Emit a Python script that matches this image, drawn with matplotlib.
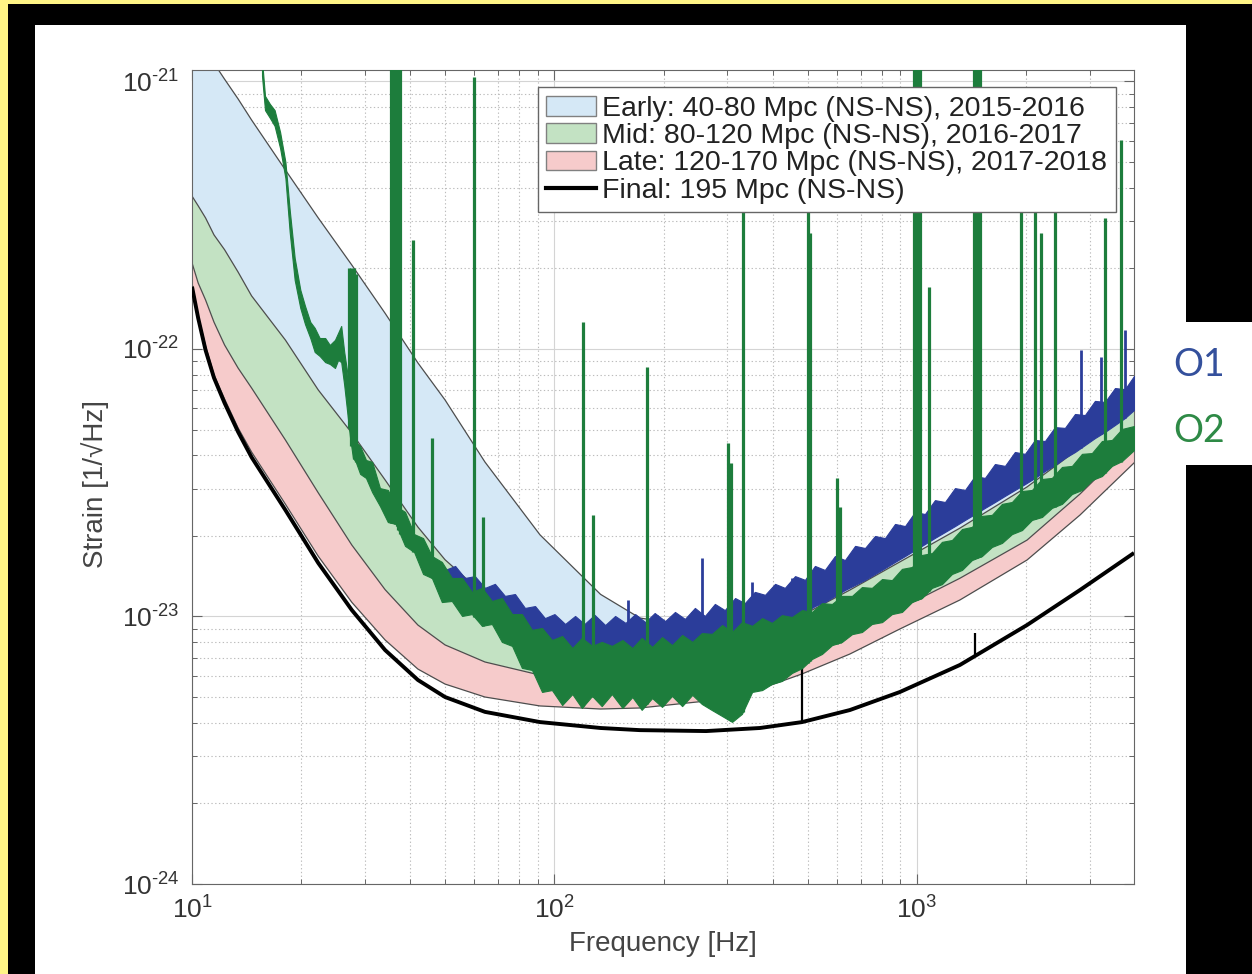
import numpy as np
import matplotlib
matplotlib.use("Agg")
import matplotlib.pyplot as plt
from matplotlib.patches import Patch, Rectangle
from matplotlib.lines import Line2D
from matplotlib.ticker import FixedLocator, FuncFormatter, NullFormatter

plt.rcParams["font.family"] = ["Liberation Sans", "DejaVu Sans"]
plt.rcParams["mathtext.fontset"] = "custom"
plt.rcParams["mathtext.rm"] = "Liberation Sans"
plt.rcParams["mathtext.it"] = "Liberation Sans:italic"
plt.rcParams["mathtext.bf"] = "Liberation Sans:bold"
plt.rcParams["mathtext.default"] = "regular"
plt.rcParams["axes.unicode_minus"] = False

# design sensitivity bands (strain), sampled on a common frequency grid
band_hz = [10, 10.4, 10.9, 11.5, 12.3, 13.4, 14.6, 18.1, 22.3, 27.6, 34.1, 42, 49.9,
           64.3, 91.2, 134, 172, 262, 369, 482, 653, 897, 1314, 2012, 2817, 3970]
early_top = [1.57e-21, 1.455e-21, 1.32e-21, 1.17e-21, 1.02e-21, 8.61e-22, 7.18e-22,
             4.67e-22, 3.09e-22, 2.06e-22, 1.36e-22, 8.87e-23, 6.45e-23, 3.78e-23,
             2.02e-23, 1.21e-23, 9.87e-24, 9.06e-24, 9.87e-24, 1.10e-23, 1.39e-23,
             1.80e-23, 2.46e-23, 3.53e-23, 4.98e-23, 7.33e-23]
mid_top = [3.73e-22, 3.43e-22, 3.09e-22, 2.67e-22, 2.35e-22, 1.94e-22, 1.58e-22,
           1.08e-22, 7.03e-23, 4.85e-23, 3.24e-23, 2.16e-23, 1.63e-23, 1.20e-23,
           9.29e-24, 8.38e-24, 8.17e-24, 8.31e-24, 9.06e-24, 1.01e-23, 1.256e-23,
           1.60e-23, 2.14e-23, 3.05e-23, 4.27e-23, 6.18e-23]
late_top = [2.10e-22, 1.765e-22, 1.525e-22, 1.26e-22, 1.035e-22, 8.49e-23, 7.15e-23,
            4.57e-23, 2.90e-23, 1.85e-23, 1.26e-23, 9.29e-24, 7.83e-24, 6.76e-24,
            6.04e-24, 5.50e-24, 5.36e-24, 5.59e-24, 6.20e-24, 7.06e-24, 8.53e-24,
            1.07e-23, 1.39e-23, 1.93e-23, 2.87e-23, 4.53e-23]
late_bottom = [1.765e-22, 1.33e-22, 1.026e-22, 8.0e-23, 6.50e-23, 5.07e-23, 4.12e-23,
               2.63e-23, 1.68e-23, 1.13e-23, 8.17e-24, 6.36e-24, 5.59e-24, 5.00e-24,
               4.63e-24, 4.51e-24, 4.55e-24, 4.83e-24, 5.36e-24, 6.10e-24, 7.24e-24,
               8.98e-24, 1.153e-23, 1.626e-23, 2.395e-23, 3.75e-23]
final = [1.71e-22, 1.305e-22, 9.9e-23, 7.80e-23, 6.28e-23, 4.90e-23, 3.94e-23,
         2.50e-23, 1.585e-23, 1.057e-23, 7.49e-24, 5.79e-24, 5.00e-24, 4.40e-24,
         4.03e-24, 3.83e-24, 3.76e-24, 3.73e-24, 3.83e-24, 4.03e-24, 4.47e-24,
         5.22e-24, 6.59e-24, 9.29e-24, 1.256e-23, 1.728e-23]
final_line_hz = [482, 1444]
final_line_top = [6.9e-24, 8.7e-24]

# O2 measured noise: upper / lower edge of the trace, log10 strain
o2_hz = [15.6, 15.9, 16.4, 16.9, 17.5, 18.1, 18.6, 19.2, 19.9, 20.5,
         21.2, 21.8, 22.5, 23.3, 24.0, 24.8, 25.3, 25.8, 26.3, 26.8,
         27.3, 27.8, 28.3, 29.1, 30.2, 31.4, 33.0, 34.7, 36.5, 38.7,
         41.0, 43.4, 45.9, 48.9, 52.1, 55.6, 59.2, 63.1, 67.2, 71.6,
         76.4, 81.3, 86.7, 92.4, 98.4, 105, 112, 119, 127, 135,
         144, 154, 164, 174, 186, 198, 211, 225, 240, 255,
         272, 290, 309, 329, 351, 374, 398, 424, 452, 482,
         513, 547, 583, 621, 662, 705, 751, 801, 853, 909,
         969, 1032, 1100, 1172, 1249, 1331, 1418, 1511, 1610, 1716,
         1828, 1948, 2076, 2212, 2357, 2512, 2677, 2852, 3039, 3238,
         3451, 3677, 3970]
o2_hi_log = [-20.920, -21.054, -21.084, -21.107, -21.189, -21.301, -21.480, -21.660, -21.779, -21.839,
             -21.899, -21.921, -21.959, -21.959, -21.985, -21.966, -21.940, -21.914, -22.011, -22.086,
             -22.221, -22.284, -22.348, -22.363, -22.415, -22.422, -22.520, -22.527, -22.587, -22.609,
             -22.692, -22.707, -22.774, -22.796, -22.856, -22.856, -22.908, -22.893, -22.942, -22.931,
             -22.991, -22.991, -23.050, -23.043, -23.088, -23.073, -23.118, -23.080, -23.110, -23.095,
             -23.110, -23.088, -23.118, -23.080, -23.114, -23.077, -23.107, -23.069, -23.095, -23.062,
             -23.065, -23.032, -23.058, -23.021, -23.035, -23.006, -23.024, -22.995, -23.002, -22.976,
             -22.983, -22.950, -22.953, -22.923, -22.923, -22.890, -22.893, -22.860, -22.864, -22.822,
             -22.815, -22.770, -22.763, -22.721, -22.714, -22.673, -22.665, -22.624, -22.620, -22.579,
             -22.572, -22.531, -22.527, -22.486, -22.482, -22.441, -22.437, -22.392, -22.389, -22.344,
             -22.340, -22.299, -22.288]
o2_lo_log = [-20.979, -21.107, -21.136, -21.166, -21.249, -21.361, -21.563, -21.742, -21.847, -21.907,
             -21.959, -22.011, -22.026, -22.049, -22.056, -22.071, -22.041, -22.049, -22.135, -22.235,
             -22.333, -22.407, -22.422, -22.467, -22.482, -22.535, -22.587, -22.647, -22.654, -22.736,
             -22.759, -22.841, -22.856, -22.946, -22.942, -22.998, -22.991, -23.035, -23.028, -23.095,
             -23.110, -23.192, -23.200, -23.282, -23.275, -23.331, -23.290, -23.342, -23.297, -23.335,
             -23.290, -23.342, -23.301, -23.349, -23.305, -23.338, -23.297, -23.335, -23.293, -23.327,
             -23.350, -23.372, -23.394, -23.364, -23.282, -23.275, -23.252, -23.241, -23.211, -23.193,
             -23.159, -23.140, -23.107, -23.095, -23.066, -23.058, -23.028, -23.021, -22.991, -22.983,
             -22.946, -22.931, -22.893, -22.879, -22.841, -22.826, -22.789, -22.774, -22.740, -22.725,
             -22.692, -22.677, -22.639, -22.628, -22.594, -22.579, -22.542, -22.527, -22.490, -22.475,
             -22.437, -22.419, -22.378]
o2_line_hz = [27.1, 27.5, 27.9, 28.3, 35.5, 35.9, 36.3, 36.7, 37.1, 37.5, 40.8, 45.9,
              60.0, 63.5, 120, 127.6, 180, 301, 307, 331, 500, 507, 601, 613,
              981, 1000, 1020, 1079, 1436, 1464, 1492, 1936, 2116, 2198, 2403,
              3301, 3654]
o2_line_top = [2.0e-22, 2.0e-22, 2.0e-22, 1.9e-22, 2e-21, 2e-21, 2e-21, 2e-21, 2e-21, 2e-21,
               2.56e-22, 4.65e-23, 1.04e-21, 2.35e-23, 1.26e-22, 2.39e-23, 8.57e-23,
               4.46e-23, 3.75e-23, 6e-22, 8e-22, 2.72e-22, 3.30e-23, 2.57e-23,
               2e-21, 2e-21, 2e-21, 1.71e-22, 2e-21, 2e-21, 2e-21, 5e-22, 5e-22,
               2.72e-22, 5e-22, 3.09e-22, 6.05e-22]

# O1 measured noise
o1_hz = [49.9, 53.2, 56.6, 60.3, 64.3, 68.5, 73.0, 77.8, 82.9, 88.4,
         94.1, 100, 107, 114, 121, 129, 138, 147, 157, 167,
         178, 189, 202, 215, 229, 244, 260, 277, 295, 315,
         335, 357, 381, 406, 432, 461, 491, 523, 557, 594,
         633, 675, 719, 766, 816, 870, 927, 988, 1052, 1121,
         1195, 1273, 1357, 1445, 1540, 1641, 1749, 1863, 1986, 2116,
         2255, 2403, 2560, 2729, 2907, 3097, 3301, 3518, 3748, 3970]
o1_hi_log = [-22.826, -22.811, -22.856, -22.849, -22.893, -22.878, -22.923, -22.916, -22.968, -22.961,
             -23.006, -22.991, -23.028, -22.998, -23.028, -22.994, -23.032, -22.998, -23.024, -22.991,
             -23.021, -22.987, -23.017, -22.983, -23.009, -22.968, -22.998, -22.953, -22.976, -22.931,
             -22.950, -22.908, -22.919, -22.878, -22.893, -22.849, -22.863, -22.811, -22.826, -22.774,
             -22.789, -22.736, -22.744, -22.699, -22.707, -22.654, -22.662, -22.609, -22.617, -22.565,
             -22.572, -22.520, -22.527, -22.475, -22.482, -22.430, -22.437, -22.385, -22.392, -22.340,
             -22.344, -22.292, -22.295, -22.243, -22.247, -22.194, -22.198, -22.146, -22.150, -22.101]
o1_lo_log = [-22.916, -22.931, -22.953, -22.976, -22.991, -23.013, -23.043, -23.073, -23.095, -23.118,
             -23.133, -23.144, -23.133, -23.125, -23.140, -23.125, -23.144, -23.125, -23.140, -23.125,
             -23.144, -23.125, -23.136, -23.125, -23.133, -23.118, -23.125, -23.107, -23.103, -23.088,
             -23.080, -23.069, -23.051, -23.036, -23.021, -23.006, -22.983, -22.961, -22.946, -22.923,
             -22.901, -22.882, -22.863, -22.841, -22.819, -22.796, -22.774, -22.751, -22.729, -22.706,
             -22.684, -22.662, -22.639, -22.617, -22.594, -22.572, -22.549, -22.527, -22.505, -22.482,
             -22.456, -22.434, -22.407, -22.385, -22.359, -22.333, -22.310, -22.284, -22.258, -22.228]
o1_line_hz = [160, 192, 240, 255, 351, 452, 2834, 3218, 3749]
o1_line_top = [1.15e-23, 1.01e-23, 1.04e-23, 1.66e-23, 1.35e-23, 1.39e-23, 9.93e-23, 9.33e-23, 1.18e-22]

x_ticks = [10, 100, 1000]
y_ticks = [1e-24, 1e-23, 1e-22, 1e-21]

band_labels = ["Early: 40-80 Mpc (NS-NS), 2015-2016",
               "Mid: 80-120 Mpc (NS-NS), 2016-2017",
               "Late: 120-170 Mpc (NS-NS), 2017-2018",
               "Final: 195 Mpc (NS-NS)"]
run_names = ["O1", "O2"]

c_early = "#d5e8f6"
c_mid = "#c3e2c3"
c_late = "#f6cbcb"
c_edge = "#4d4d4d"
c_o1 = "#2b3d9a"
c_o2 = "#1d7d3c"
yellow = "#fff585"


def floor_at(hz, src_hz, src_log):
    return 10.0 ** np.interp(np.log10(hz), np.log10(src_hz), src_log)


def power_label(v, pos):
    # MATLAB-style 10^n with a plain hyphen in the exponent
    return r"$10^{\text{%d}}$" % int(round(np.log10(v)))


W, H = 1252, 974
fig = plt.figure(figsize=(W / 100, H / 100), dpi=100, facecolor="black")

# frame: yellow border, white panel, white tab for the run labels
for x0, y0, x1, y1, col in [(0, 0, 8, H, yellow), (0, 0, W, 4, yellow),
                            (35, 25, 1186, H, "white"), (1186, 322, W, 465, "white")]:
    fig.add_artist(Rectangle((x0 / W, 1 - y1 / H), (x1 - x0) / W, (y1 - y0) / H,
                             transform=fig.transFigure, facecolor=col,
                             edgecolor="none", zorder=-5))

ax = fig.add_axes([192 / W, 1 - 884 / H, (1134 - 192) / W, (884 - 70) / H])
ax.set_xscale("log")
ax.set_yscale("log")
ax.set_xlim(10, 3970)
ax.set_ylim(1e-24, 1.104e-21)

hz = np.array(band_hz)
ax.fill_between(hz, early_top, mid_top, facecolor=c_early, edgecolor="none", zorder=1)
ax.fill_between(hz, mid_top, late_top, facecolor=c_mid, edgecolor="none", zorder=1)
ax.fill_between(hz, late_top, late_bottom, facecolor=c_late, edgecolor="none", zorder=1)
for curve in (early_top, mid_top, late_top, late_bottom):
    ax.plot(hz, curve, color=c_edge, lw=0.9, zorder=2)

ax.plot(hz, final, color="black", lw=2.8, zorder=3, solid_capstyle="butt")
ax.vlines(final_line_hz, floor_at(final_line_hz, band_hz, np.log10(final)),
          final_line_top, color="black", lw=1.6, zorder=3)

# O1 below O2
ax.fill_between(o1_hz, 10.0 ** np.array(o1_lo_log), 10.0 ** np.array(o1_hi_log),
                facecolor=c_o1, edgecolor=c_o1, lw=0.8, zorder=4)
ax.vlines(o1_line_hz, floor_at(o1_line_hz, o1_hz, o1_lo_log), o1_line_top,
          color=c_o1, lw=2.0, zorder=4)

ax.fill_between(o2_hz, 10.0 ** np.array(o2_lo_log), 10.0 ** np.array(o2_hi_log),
                facecolor=c_o2, edgecolor=c_o2, lw=0.8, zorder=5)
ax.vlines(o2_line_hz, floor_at(o2_line_hz, o2_hz, o2_lo_log), o2_line_top,
          color=c_o2, lw=2.3, zorder=5)

# axes styling
ax.xaxis.set_major_locator(FixedLocator(x_ticks))
ax.yaxis.set_major_locator(FixedLocator(y_ticks))
ax.xaxis.set_minor_locator(FixedLocator([m * d for d in (10, 100, 1000) for m in range(2, 10)
                                         if m * d < 3970]))
ax.yaxis.set_minor_locator(FixedLocator([m * d for d in (1e-24, 1e-23, 1e-22) for m in range(2, 10)]))
ax.xaxis.set_major_formatter(FuncFormatter(power_label))
ax.yaxis.set_major_formatter(FuncFormatter(power_label))
ax.xaxis.set_minor_formatter(NullFormatter())
ax.yaxis.set_minor_formatter(NullFormatter())

ax.grid(True, which="major", color="#d4d4d4", lw=0.8, ls="-")
ax.grid(True, which="minor", color="#bcbcbc", lw=0.8, ls=(0, (1.2, 2.2)))
ax.set_axisbelow(True)
ax.tick_params(which="both", direction="in", top=True, right=True, color="#666666")
ax.tick_params(which="major", length=7, width=0.8, labelsize=19, labelcolor="#333333", pad=9)
ax.tick_params(which="minor", length=3.5, width=0.7)
for sp in ax.spines.values():
    sp.set_color("#666666")
    sp.set_linewidth(0.8)

ax.set_xlabel("Frequency [Hz]", fontsize=20, color="#444444")
ax.set_ylabel("Strain [1/\u221aHz]", fontsize=20, color="#444444")
ax.xaxis.set_label_coords(0.5, -0.058)
ax.yaxis.set_label_coords(-0.088, 0.491)

handles = [Patch(facecolor=c_early, edgecolor="#808080", lw=1.0),
           Patch(facecolor=c_mid, edgecolor="#808080", lw=1.0),
           Patch(facecolor=c_late, edgecolor="#808080", lw=1.0),
           Line2D([], [], color="black", lw=3.0)]
leg = ax.legend(handles, band_labels, loc="upper left", bbox_to_anchor=(0.367, 0.979),
                borderaxespad=0, fontsize=20.5, frameon=True, fancybox=False,
                framealpha=1, edgecolor="#666666", labelspacing=0.05,
                handlelength=1.76, handleheight=0.7, handletextpad=0.2,
                borderpad=0.3, labelcolor="#222222")
leg.get_frame().set_linewidth(1.0)
leg.set_zorder(10)

fig.text(1199 / W, 1 - 365 / H, run_names[0], color="#34509c", fontsize=27,
         family="Lato", ha="center", va="center")
fig.text(1199 / W, 1 - 431 / H, run_names[1], color="#2e8a46", fontsize=27,
         family="Lato", ha="center", va="center")

fig.savefig("out.png", dpi=100, facecolor="black")
